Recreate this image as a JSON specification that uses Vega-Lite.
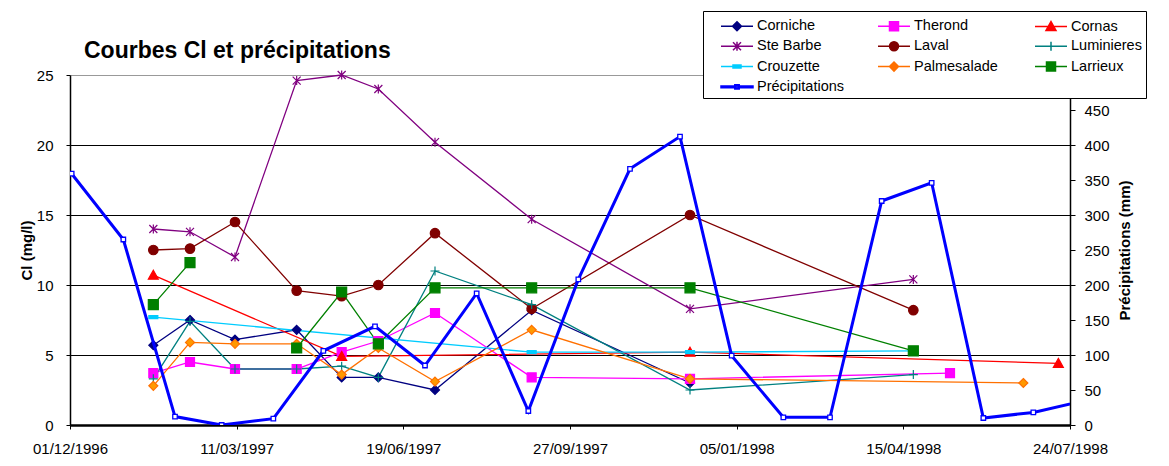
{
  "$schema": "https://vega.github.io/schema/vega-lite/v6.json",
  "width": 1000,
  "height": 350,
  "autosize": {"type": "none"},
  "padding": {"left": 70, "top": 75, "right": 99, "bottom": 41},
  "background": "white",
  "title": {"text": "Courbes Cl et précipitations", "anchor": "start", "frame": "group", "fontSize": 23, "fontWeight": "bold", "font": "Liberation Sans", "color": "black", "dx": 14, "dy": 70, "offset": 0, "baseline": "alphabetic"},
  "config": {
    "font": "Liberation Sans",
    "view": {"stroke": null},
    "axis": {"labelFont": "Liberation Sans", "labelFontSize": 15, "labelColor": "black", "titleFont": "Liberation Sans", "titleFontSize": 15, "titleFontWeight": "bold", "titleColor": "black", "domainColor": "black", "tickColor": "black", "labelFlush": false, "labelOverlap": false}
  },
  "data": {"values": [
    {"series": "Corniche", "date": "1997-01-20", "cl": 5.7},
    {"series": "Corniche", "date": "1997-02-11", "cl": 7.5},
    {"series": "Corniche", "date": "1997-03-10", "cl": 6.1},
    {"series": "Corniche", "date": "1997-04-16", "cl": 6.8},
    {"series": "Corniche", "date": "1997-05-13", "cl": 3.4},
    {"series": "Corniche", "date": "1997-06-04", "cl": 3.4},
    {"series": "Corniche", "date": "1997-07-08", "cl": 2.5},
    {"series": "Corniche", "date": "1997-09-04", "cl": 8.2},
    {"series": "Corniche", "date": "1997-12-08", "cl": 3.0},
    {"series": "Therond", "date": "1997-01-20", "cl": 3.7},
    {"series": "Therond", "date": "1997-02-11", "cl": 4.5},
    {"series": "Therond", "date": "1997-03-10", "cl": 4.0},
    {"series": "Therond", "date": "1997-04-16", "cl": 4.0},
    {"series": "Therond", "date": "1997-05-13", "cl": 5.2},
    {"series": "Therond", "date": "1997-06-04", "cl": 6.0},
    {"series": "Therond", "date": "1997-07-08", "cl": 8.0},
    {"series": "Therond", "date": "1997-09-04", "cl": 3.4},
    {"series": "Therond", "date": "1997-12-08", "cl": 3.3},
    {"series": "Therond", "date": "1998-05-13", "cl": 3.7},
    {"series": "Cornas", "date": "1997-01-20", "cl": 10.7},
    {"series": "Cornas", "date": "1997-05-13", "cl": 4.9},
    {"series": "Cornas", "date": "1997-12-08", "cl": 5.2},
    {"series": "Cornas", "date": "1998-07-17", "cl": 4.4},
    {"series": "Ste Barbe", "date": "1997-01-20", "cl": 14.0},
    {"series": "Ste Barbe", "date": "1997-02-11", "cl": 13.8},
    {"series": "Ste Barbe", "date": "1997-03-10", "cl": 12.0},
    {"series": "Ste Barbe", "date": "1997-04-16", "cl": 24.6},
    {"series": "Ste Barbe", "date": "1997-05-13", "cl": 25.0},
    {"series": "Ste Barbe", "date": "1997-06-04", "cl": 24.0},
    {"series": "Ste Barbe", "date": "1997-07-08", "cl": 20.2},
    {"series": "Ste Barbe", "date": "1997-09-04", "cl": 14.7},
    {"series": "Ste Barbe", "date": "1997-12-08", "cl": 8.3},
    {"series": "Ste Barbe", "date": "1998-04-21", "cl": 10.4},
    {"series": "Laval", "date": "1997-01-20", "cl": 12.5},
    {"series": "Laval", "date": "1997-02-11", "cl": 12.6},
    {"series": "Laval", "date": "1997-03-10", "cl": 14.5},
    {"series": "Laval", "date": "1997-04-16", "cl": 9.6},
    {"series": "Laval", "date": "1997-05-13", "cl": 9.2},
    {"series": "Laval", "date": "1997-06-04", "cl": 10.0},
    {"series": "Laval", "date": "1997-07-08", "cl": 13.7},
    {"series": "Laval", "date": "1997-09-04", "cl": 8.3},
    {"series": "Laval", "date": "1997-12-08", "cl": 15.0},
    {"series": "Laval", "date": "1998-04-21", "cl": 8.2},
    {"series": "Luminieres", "date": "1997-01-20", "cl": 3.3},
    {"series": "Luminieres", "date": "1997-02-11", "cl": 7.4},
    {"series": "Luminieres", "date": "1997-03-10", "cl": 4.0},
    {"series": "Luminieres", "date": "1997-04-16", "cl": 4.0},
    {"series": "Luminieres", "date": "1997-05-13", "cl": 4.2},
    {"series": "Luminieres", "date": "1997-06-04", "cl": 3.4},
    {"series": "Luminieres", "date": "1997-07-08", "cl": 11.0},
    {"series": "Luminieres", "date": "1997-09-04", "cl": 8.6},
    {"series": "Luminieres", "date": "1997-12-08", "cl": 2.5},
    {"series": "Luminieres", "date": "1998-04-21", "cl": 3.6},
    {"series": "Crouzette", "date": "1997-01-20", "cl": 7.7},
    {"series": "Crouzette", "date": "1997-09-04", "cl": 5.2},
    {"series": "Crouzette", "date": "1997-12-08", "cl": 5.2},
    {"series": "Crouzette", "date": "1998-04-21", "cl": 5.3},
    {"series": "Palmesalade", "date": "1997-01-20", "cl": 2.8},
    {"series": "Palmesalade", "date": "1997-02-11", "cl": 5.9},
    {"series": "Palmesalade", "date": "1997-03-10", "cl": 5.8},
    {"series": "Palmesalade", "date": "1997-04-16", "cl": 5.8},
    {"series": "Palmesalade", "date": "1997-05-13", "cl": 3.6},
    {"series": "Palmesalade", "date": "1997-06-04", "cl": 5.5},
    {"series": "Palmesalade", "date": "1997-07-08", "cl": 3.1},
    {"series": "Palmesalade", "date": "1997-09-04", "cl": 6.8},
    {"series": "Palmesalade", "date": "1997-12-08", "cl": 3.3},
    {"series": "Palmesalade", "date": "1998-06-26", "cl": 3.0},
    {"series": "Larrieux", "date": "1997-01-20", "cl": 8.6},
    {"series": "Larrieux", "date": "1997-02-11", "cl": 11.6},
    {"series": "Larrieux", "date": "1997-03-10", "cl": null},
    {"series": "Larrieux", "date": "1997-04-16", "cl": 5.5},
    {"series": "Larrieux", "date": "1997-05-13", "cl": 9.5},
    {"series": "Larrieux", "date": "1997-06-04", "cl": 5.8},
    {"series": "Larrieux", "date": "1997-07-08", "cl": 9.8},
    {"series": "Larrieux", "date": "1997-09-04", "cl": 9.8},
    {"series": "Larrieux", "date": "1997-12-08", "cl": 9.8},
    {"series": "Larrieux", "date": "1998-04-21", "cl": 5.3},
    {"series": "Précipitations", "date": "1996-12-02", "mm": 359},
    {"series": "Précipitations", "date": "1997-01-02", "mm": 265},
    {"series": "Précipitations", "date": "1997-02-02", "mm": 12},
    {"series": "Précipitations", "date": "1997-03-02", "mm": 0},
    {"series": "Précipitations", "date": "1997-04-02", "mm": 9},
    {"series": "Précipitations", "date": "1997-05-02", "mm": 106},
    {"series": "Précipitations", "date": "1997-06-02", "mm": 141},
    {"series": "Précipitations", "date": "1997-07-02", "mm": 85},
    {"series": "Précipitations", "date": "1997-08-02", "mm": 188},
    {"series": "Précipitations", "date": "1997-09-02", "mm": 20},
    {"series": "Précipitations", "date": "1997-10-02", "mm": 208},
    {"series": "Précipitations", "date": "1997-11-02", "mm": 366},
    {"series": "Précipitations", "date": "1997-12-02", "mm": 412},
    {"series": "Précipitations", "date": "1998-01-02", "mm": 99},
    {"series": "Précipitations", "date": "1998-02-02", "mm": 11},
    {"series": "Précipitations", "date": "1998-03-02", "mm": 11},
    {"series": "Précipitations", "date": "1998-04-02", "mm": 320},
    {"series": "Précipitations", "date": "1998-05-02", "mm": 346},
    {"series": "Précipitations", "date": "1998-06-02", "mm": 10},
    {"series": "Précipitations", "date": "1998-07-02", "mm": 18},
    {"series": "Précipitations", "date": "1998-08-02", "mm": 35}
  ]},
  "encoding": {
    "x": {
      "field": "date", "type": "temporal",
      "scale": {"type": "utc", "domain": [{"year": 1996, "month": 12, "date": 1, "utc": true}, {"year": 1998, "month": 7, "date": 24, "utc": true}]},
      "axis": {
        "values": [
          {"year": 1996, "month": 12, "date": 1, "utc": true},
          {"year": 1997, "month": 3, "date": 11, "utc": true},
          {"year": 1997, "month": 6, "date": 19, "utc": true},
          {"year": 1997, "month": 9, "date": 27, "utc": true},
          {"year": 1998, "month": 1, "date": 5, "utc": true},
          {"year": 1998, "month": 4, "date": 15, "utc": true},
          {"year": 1998, "month": 7, "date": 24, "utc": true}
        ],
        "format": "%d/%m/%Y", "title": null, "grid": false,
        "domainWidth": 2.5, "tickSize": 4, "labelPadding": 12, "labelFlush": false
      }
    }
  },
  "layer": [
    {
      "transform": [{"filter": "datum.series !== 'Précipitations'"}],
      "encoding": {
        "y": {
          "field": "cl", "type": "quantitative", "scale": {"domain": [0, 25]},
          "axis": {
            "title": "Cl (mg/l)", "values": [0, 5, 10, 15, 20, 25], "grid": true,
            "gridColor": {"condition": {"test": "datum.value === 25", "value": "#999999"}, "value": "#000000"},
            "gridWidth": 1, "domainWidth": 1.5, "tickSize": 4, "labelPadding": 13, "titlePadding": 2
          }
        },
        "color": {
          "field": "series", "type": "nominal",
          "scale": {
            "domain": ["Corniche", "Therond", "Cornas", "Ste Barbe", "Laval", "Luminieres", "Crouzette", "Palmesalade", "Larrieux", "Précipitations"],
            "range": ["#000080", "#FF00FF", "#FF0000", "#800080", "#800000", "#008080", "#00CCFF", "#FF7000", "#008000", "#0000FF"]
          },
          "legend": {
            "orient": "none", "legendX": 633, "legendY": -64, "direction": "horizontal", "columns": 3, "gridAlign": "all", "title": null,
            "symbolSize": 400, "symbolOffset": 19, "labelOffset": 9, "columnPadding": 19, "rowPadding": 1.3,
            "padding": 4, "fillColor": "white", "strokeColor": "black", "labelFont": "Liberation Sans",
            "labelFontSize": 14.5, "labelColor": "black", "labelLimit": 300, "symbolLimit": 0,
            "encode": {
              "symbols": {
                "update": {
                  "shape": {"signal": "datum.value === 'Précipitations' ? 'M-1.6,-0.08H-0.22V-0.22H0.22V-0.08H1.6V0.08H0.22V0.22H-0.22V0.08H-1.6ZM-0.1,-0.1V0.1H0.1V-0.1Z' : (datum.value === 'Corniche' || datum.value === 'Palmesalade') ? 'M-1.6,0H1.6M0,-0.45L0.45,0L0,0.45L-0.45,0Z' : (datum.value === 'Therond' || datum.value === 'Larrieux') ? 'M-1.6,0H1.6M-0.45,-0.45H0.45V0.45H-0.45Z' : datum.value === 'Cornas' ? 'M-1.6,0H1.6M0,-0.5L0.5,0.4H-0.5Z' : datum.value === 'Ste Barbe' ? 'M-1.6,0H1.6M-0.4,-0.4L0.4,0.4M-0.4,0.4L0.4,-0.4M0,-0.45V0.45' : datum.value === 'Laval' ? 'M-1.6,0H1.6M-0.45,0A0.45,0.45,0,1,0,0.45,0A0.45,0.45,0,1,0,-0.45,0Z' : datum.value === 'Luminieres' ? 'M-1.6,0H1.6M0,-0.45V0.45' : 'M-1.6,0H1.6M-0.4,-0.15H0.4V0.15H-0.4Z'"},
                  "fill": {"scale": "color", "field": "value"},
                  "stroke": {"scale": "color", "field": "value"},
                  "strokeWidth": {"value": 1.5},
                  "opacity": {"value": 1}
                }
              }
            }
          }
        }
      },
      "layer": [
        {"mark": {"type": "line", "strokeWidth": 1.3, "invalid": "break-paths-filter-domains"}},
        {
          "mark": {"type": "point", "filled": false, "opacity": 1, "strokeWidth": 1.2, "size": 100},
          "encoding": {
            "fill": {
              "field": "series", "type": "nominal", "legend": null,
              "scale": {
                "domain": ["Corniche", "Therond", "Cornas", "Ste Barbe", "Laval", "Luminieres", "Crouzette", "Palmesalade", "Larrieux"],
                "range": ["#000080", "#FF00FF", "#FF0000", "#800080", "#800000", "#008080", "#00CCFF", "#FF9900", "#008000"]
              }
            },
            "shape": {
              "field": "series", "type": "nominal", "legend": null,
              "scale": {
                "domain": ["Corniche", "Therond", "Cornas", "Ste Barbe", "Laval", "Luminieres", "Crouzette", "Palmesalade", "Larrieux"],
                "range": [
                  "M0,-0.9L0.9,0L0,0.9L-0.9,0Z",
                  "M-0.9,-0.9H0.9V0.9H-0.9Z",
                  "M0,-1L1,0.8H-1Z",
                  "M-0.8,-0.8L0.8,0.8M-0.8,0.8L0.8,-0.8M0,-0.9V0.9",
                  "M-0.95,0A0.95,0.95,0,1,0,0.95,0A0.95,0.95,0,1,0,-0.95,0Z",
                  "M-0.9,0H0.9M0,-0.9V0.9",
                  "M-0.9,-0.3H0.9V0.3H-0.9Z",
                  "M0,-0.9L0.9,0L0,0.9L-0.9,0Z",
                  "M-1,-1H1V1H-1Z"
                ]
              }
            }
          }
        }
      ]
    },
    {
      "transform": [{"filter": "datum.series === 'Précipitations'"}],
      "encoding": {
        "y": {
          "field": "mm", "type": "quantitative", "scale": {"domain": [0, 500]},
          "axis": {
            "orient": "right", "title": "Précipitations (mm)", "values": [0, 50, 100, 150, 200, 250, 300, 350, 400, 450],
            "grid": false, "domainWidth": 1.5, "tickSize": 5, "labelPadding": 9, "titleAngle": 270, "titlePadding": 23
          }
        },
        "color": {"field": "series", "type": "nominal"}
      },
      "layer": [
        {"mark": {"type": "line", "strokeWidth": 3, "clip": true}},
        {"mark": {"type": "point", "shape": "square", "filled": true, "fill": "white", "stroke": "#0000FF", "size": 20, "strokeWidth": 1.3, "opacity": 1, "clip": true}}
      ]
    }
  ],
  "resolve": {"scale": {"y": "independent"}}
}
